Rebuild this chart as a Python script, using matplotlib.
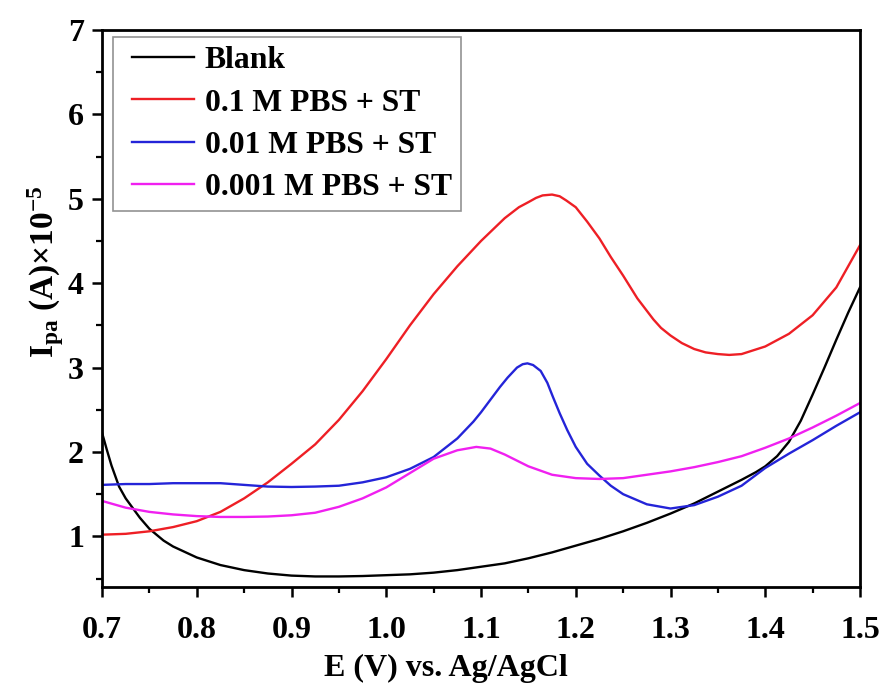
import numpy as np
import matplotlib
matplotlib.use("Agg")
import matplotlib.pyplot as plt
from matplotlib.ticker import MultipleLocator
from matplotlib.lines import Line2D
from matplotlib.legend_handler import HandlerLine2D

plt.rcParams['font.family'] = ['Liberation Serif', 'DejaVu Serif']
plt.rcParams['font.weight'] = 'bold'
plt.rcParams['mathtext.fontset'] = 'custom'
plt.rcParams['mathtext.rm'] = 'Liberation Serif:bold'
plt.rcParams['mathtext.it'] = 'Liberation Serif:bold'
plt.rcParams['mathtext.bf'] = 'Liberation Serif:bold'
plt.rcParams['mathtext.default'] = 'rm'

# Potential (V vs Ag/AgCl) and anodic peak current (A x 1e-5)
e_blank = [0.700, 0.705, 0.710, 0.718, 0.725, 0.740, 0.750, 0.765, 0.775, 0.800,
           0.825, 0.850, 0.875, 0.900, 0.925, 0.950, 0.975, 1.000, 1.025, 1.050,
           1.075, 1.100, 1.125, 1.150, 1.175, 1.200, 1.225, 1.250, 1.275, 1.300,
           1.325, 1.350, 1.375, 1.390, 1.400, 1.4125, 1.425, 1.4375, 1.450,
           1.4625, 1.475, 1.4875, 1.500]
i_blank = [2.23, 2.03, 1.84, 1.59, 1.45, 1.22, 1.09, 0.95, 0.88, 0.75,
           0.66, 0.60, 0.56, 0.535, 0.525, 0.525, 0.53, 0.54, 0.55, 0.57,
           0.60, 0.64, 0.68, 0.74, 0.81, 0.89, 0.97, 1.06, 1.16, 1.27,
           1.39, 1.53, 1.67, 1.76, 1.83, 1.95, 2.12, 2.37, 2.68,
           3.00, 3.33, 3.65, 3.95]

e_01 = [0.700, 0.725, 0.750, 0.775, 0.800, 0.825, 0.850, 0.875, 0.900, 0.925,
        0.950, 0.975, 1.000, 1.025, 1.050, 1.075, 1.100, 1.125, 1.140, 1.150,
        1.158, 1.165, 1.175, 1.183, 1.190, 1.200, 1.212, 1.225, 1.237, 1.250,
        1.265, 1.282, 1.290, 1.300, 1.312, 1.325, 1.337, 1.350, 1.362, 1.375,
        1.400, 1.425, 1.450, 1.475, 1.500]
i_01 = [1.02, 1.03, 1.06, 1.11, 1.18, 1.29, 1.45, 1.64, 1.86, 2.09,
        2.38, 2.72, 3.10, 3.50, 3.87, 4.20, 4.50, 4.77, 4.90, 4.96,
        5.01, 5.04, 5.05, 5.03, 4.98, 4.90, 4.73, 4.53, 4.31, 4.09,
        3.82, 3.57, 3.47, 3.38, 3.29, 3.22, 3.18, 3.16, 3.15, 3.16,
        3.25, 3.40, 3.62, 3.95, 4.45]

e_001 = [0.700, 0.725, 0.750, 0.775, 0.800, 0.825, 0.850, 0.875, 0.900, 0.925,
         0.950, 0.975, 1.000, 1.025, 1.050, 1.075, 1.092, 1.100, 1.112, 1.120,
         1.128, 1.133, 1.138, 1.144, 1.149, 1.155, 1.163, 1.170, 1.176, 1.183,
         1.191, 1.200, 1.212, 1.225, 1.237, 1.250, 1.275, 1.300, 1.325, 1.350,
         1.375, 1.400, 1.425, 1.450, 1.475, 1.500]
i_001 = [1.61, 1.62, 1.62, 1.63, 1.63, 1.63, 1.61, 1.59, 1.585, 1.59,
         1.60, 1.64, 1.70, 1.80, 1.94, 2.16, 2.36, 2.47, 2.65, 2.77,
         2.88, 2.94, 3.00, 3.04, 3.05, 3.03, 2.96, 2.82, 2.65, 2.46,
         2.26, 2.06, 1.86, 1.72, 1.60, 1.50, 1.38, 1.33, 1.37, 1.47,
         1.60, 1.81, 1.98, 2.14, 2.31, 2.47]

e_0001 = [0.700, 0.725, 0.750, 0.775, 0.800, 0.825, 0.850, 0.875, 0.900, 0.925,
          0.950, 0.975, 1.000, 1.025, 1.050, 1.075, 1.095, 1.110, 1.125, 1.150,
          1.175, 1.200, 1.225, 1.250, 1.275, 1.300, 1.325, 1.350, 1.375, 1.400,
          1.425, 1.450, 1.475, 1.500]
i_0001 = [1.42, 1.34, 1.29, 1.26, 1.24, 1.23, 1.23, 1.235, 1.25, 1.28,
          1.35, 1.45, 1.58, 1.75, 1.92, 2.02, 2.06, 2.04, 1.97, 1.83,
          1.73, 1.69, 1.68, 1.69, 1.73, 1.77, 1.82, 1.88, 1.95, 2.05,
          2.16, 2.29, 2.43, 2.58]

labels = ["Blank", "0.1 M PBS + ST", "0.01 M PBS + ST", "0.001 M PBS + ST"]
colors = ["#000000", "#ee1f25", "#2424d8", "#f020f0"]

x_ticks = [0.7, 0.8, 0.9, 1.0, 1.1, 1.2, 1.3, 1.4, 1.5]
y_ticks = [1, 2, 3, 4, 5, 6, 7]

fig = plt.figure(figsize=(8.84, 6.88), dpi=100)
ax = fig.add_axes([102 / 884, 1 - 587 / 688, 758 / 884, 557 / 688])

series = [(e_blank, i_blank), (e_01, i_01), (e_001, i_001), (e_0001, i_0001)]
for (xs, ys), lab, c in zip(series, labels, colors):
    ax.plot(xs, ys, color=c, lw=1.7, label=lab, solid_joinstyle='round')

ax.set_xlim(0.7, 1.5)
ax.set_ylim(0.4, 7)
ax.set_xticks(x_ticks)
ax.set_xticklabels([f"{v:.1f}" for v in x_ticks])
ax.set_yticks(y_ticks)
ax.xaxis.set_minor_locator(MultipleLocator(0.05))
ax.yaxis.set_minor_locator(MultipleLocator(0.5))

for sp in ax.spines.values():
    sp.set_linewidth(2.0)
ax.tick_params(which='major', direction='out', length=7, width=1.8,
               labelsize=23, top=False, right=False)
ax.tick_params(axis='x', which='major', pad=14)
ax.tick_params(axis='y', which='major', pad=6)
ax.tick_params(which='minor', direction='out', length=4.5, width=1.6,
               top=False, right=False)
for lbl in ax.get_xticklabels() + ax.get_yticklabels():
    lbl.set_fontweight('bold')

xl = ax.set_xlabel("E (V) vs. Ag/AgCl", fontsize=23, fontweight='bold')
xl.set_verticalalignment('center')
ax.xaxis.set_label_coords(0.454, -0.147)

yl = ax.set_ylabel(r"I$_{pa}$ (A)×10$^{-5}$", fontsize=24, fontweight='bold')
yl.set_verticalalignment('center')
ax.yaxis.set_label_coords(-0.074, 0.565)

leg = ax.legend(loc='upper left', bbox_to_anchor=(0.0145, 0.988), borderaxespad=0,
                handlelength=2.55, handletextpad=0.05,
                labelspacing=0.41, borderpad=0.3, fancybox=False,
                frameon=True, prop={'weight': 'bold', 'size': 22.8},
                handler_map={Line2D: HandlerLine2D(marker_pad=0.3, numpoints=2)})
leg.get_frame().set_edgecolor('#777777')
leg.get_frame().set_linewidth(1.2)

fig.savefig("out.png", dpi=100)
